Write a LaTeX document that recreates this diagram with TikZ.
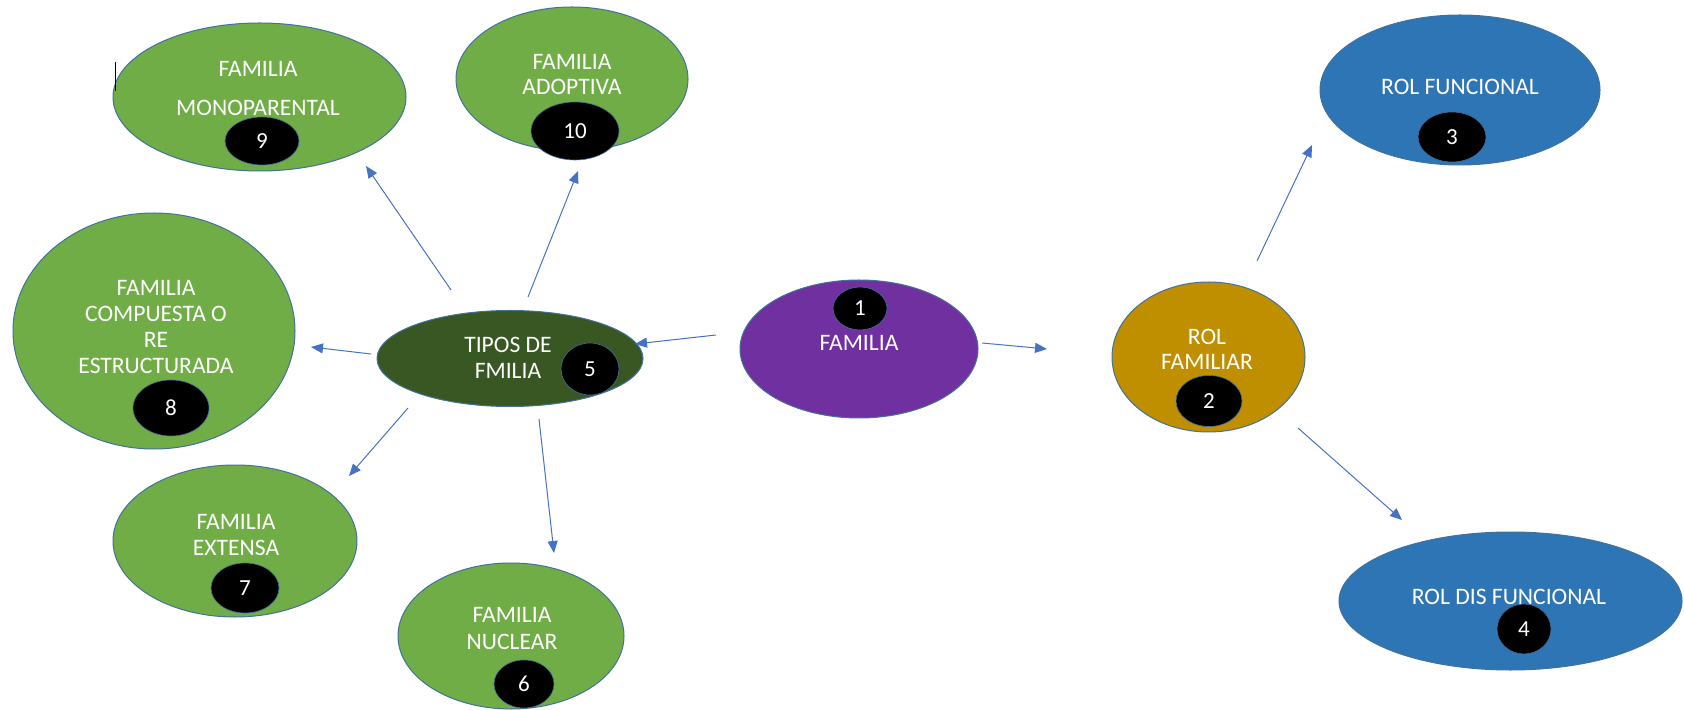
\documentclass[tikz,border=0pt]{standalone}
\usepackage{fontspec}
\setmainfont{Carlito}
\usetikzlibrary{arrows.meta,shapes.geometric}
\definecolor{gr}{HTML}{70AD47}
\definecolor{dg}{HTML}{385723}
\definecolor{pu}{HTML}{7030A0}
\definecolor{go}{HTML}{BF8F00}
\definecolor{bl}{HTML}{2E75B6}
\definecolor{ol}{HTML}{41719C}
\definecolor{ar}{HTML}{4472C4}
\begin{document}
\begin{tikzpicture}[x=0.5pt,y=-0.5pt,
  bub/.style={draw=ol,line width=0.5pt,ellipse,inner sep=0pt},
  num/.style={fill=black,draw=ol,line width=0.3pt,ellipse,inner sep=0pt,text=white,font=\fontsize{11.5}{13}\selectfont},
  lbl/.style={text=white,align=center,inner sep=0pt,font=\fontsize{11.8}{13}\selectfont},
  arr/.style={draw=ar,line width=0.5pt,-{Triangle[length=6pt,width=5pt]}}]
\useasboundingbox (0,0) rectangle (1684,710);
% ellipses
\node[bub,fill=gr,minimum width=146.5pt,minimum height=74pt] (n9) at (259.5,97) {};
\node[bub,fill=gr,minimum width=116pt,minimum height=72pt] (n10) at (572,79) {};
\node[bub,fill=gr,minimum width=141pt,minimum height=118pt] (n8) at (154,331) {};
\node[bub,fill=dg,minimum width=133pt,minimum height=48pt] (n5) at (510,358.5) {};
\node[bub,fill=gr,minimum width=122pt,minimum height=76pt] (n7) at (235,541) {};
\node[bub,fill=gr,minimum width=113pt,minimum height=73pt] (n6) at (511,636) {};
\node[bub,fill=pu,minimum width=119pt,minimum height=69pt] (n1) at (859,349) {};
\node[bub,fill=go,minimum width=96.5pt,minimum height=75pt] (n2) at (1208.5,357) {};
\node[bub,fill=bl,minimum width=140pt,minimum height=75pt] (n3) at (1460,90) {};
\node[bub,fill=bl,minimum width=171.5pt,minimum height=69pt] (n4) at (1510.5,601) {};
% labels
\node[lbl,font=\fontsize{11.8}{19.5}\selectfont] (t9) at (258,89) {FAMILIA\\MONOPARENTAL};
\node[lbl,font=\fontsize{11.8}{12.5}\selectfont] (t10) at (572,74.5) {FAMILIA\\ADOPTIVA};
\node[lbl,font=\fontsize{11.8}{13}\selectfont] (t8) at (156,327.5) {FAMILIA\\COMPUESTA O\\RE\\ESTRUCTURADA};
\node[lbl,font=\fontsize{11.8}{13}\selectfont] (t5) at (508,358) {TIPOS DE\\FMILIA};
\node[lbl,font=\fontsize{11.8}{13}\selectfont] (t7) at (236,535) {FAMILIA\\EXTENSA};
\node[lbl,font=\fontsize{11.8}{13.5}\selectfont] (t6) at (512,628.5) {FAMILIA\\NUCLEAR};
\node[lbl] (t1) at (859,343) {FAMILIA};
\node[lbl,font=\fontsize{11.8}{12.5}\selectfont] (t2) at (1207,349.5) {ROL\\FAMILIAR};
\node[lbl] (t3) at (1460,87) {ROL FUNCIONAL};
\node[lbl] (t4) at (1509,597) {ROL DIS FUNCIONAL};
% number badges
\node[num,minimum width=37pt,minimum height=24pt] (c9) at (262,141) {9};
\node[num,minimum width=44pt,minimum height=29pt] (c10) at (575,131) {10};
\node[num,minimum width=38pt,minimum height=28pt] (c8) at (171,408) {8};
\node[num,minimum width=29pt,minimum height=26pt] (c5) at (590,369) {5};
\node[num,minimum width=34pt,minimum height=25pt] (c7) at (245,588) {7};
\node[num,minimum width=30pt,minimum height=24pt] (c6) at (524,684) {6};
\node[num,minimum width=27pt,minimum height=21.5pt] (c1) at (860,308.5) {1};
\node[num,minimum width=33pt,minimum height=25.5pt] (c2) at (1209,401) {2};
\node[num,minimum width=34pt,minimum height=25pt] (c3) at (1452,137) {3};
\node[num,minimum width=27pt,minimum height=25pt] (c4) at (1524,629) {4};
% cursor mark
\draw[black,line width=0.5pt] (115,62) -- (115,91);
% arrow end points
\coordinate (a1s) at (716,335); \coordinate (a1e) at (635,344);
\coordinate (a2s) at (982,343); \coordinate (a2e) at (1047,349);
\coordinate (a3s) at (1257,261); \coordinate (a3e) at (1312,145);
\coordinate (a4s) at (1298,428); \coordinate (a4e) at (1402,520);
\coordinate (a9s) at (451,290); \coordinate (a9e) at (366,166);
\coordinate (a10s) at (528,297); \coordinate (a10e) at (578,171);
\coordinate (a8s) at (371,354); \coordinate (a8e) at (311,347);
\coordinate (a7s) at (408,408); \coordinate (a7e) at (349,476);
\coordinate (a6s) at (539,419); \coordinate (a6e) at (554,553);
\draw[arr] (a1s) -- (a1e);
\draw[arr] (a2s) -- (a2e);
\draw[arr] (a3s) -- (a3e);
\draw[arr] (a4s) -- (a4e);
\draw[arr] (a9s) -- (a9e);
\draw[arr] (a10s) -- (a10e);
\draw[arr] (a8s) -- (a8e);
\draw[arr] (a7s) -- (a7e);
\draw[arr] (a6s) -- (a6e);
\end{tikzpicture}
\end{document}
